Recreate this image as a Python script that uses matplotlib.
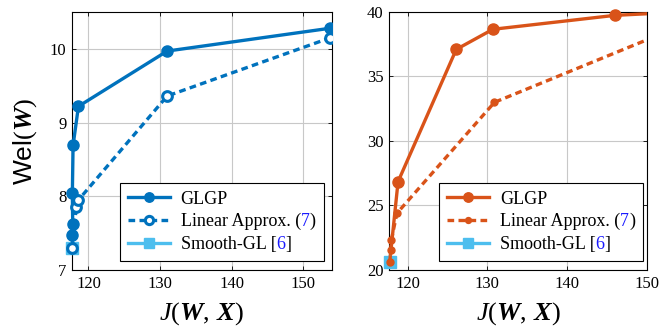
import matplotlib
matplotlib.use("Agg")
import matplotlib.pyplot as plt
from matplotlib.offsetbox import HPacker, TextArea
from matplotlib.patches import Rectangle

plt.rcParams['font.family'] = 'Liberation Serif'
plt.rcParams['mathtext.fontset'] = 'custom'
plt.rcParams['mathtext.rm'] = 'Liberation Serif'
plt.rcParams['mathtext.it'] = 'Liberation Serif:italic'
plt.rcParams['mathtext.bf'] = 'Liberation Serif:bold'
plt.rcParams['mathtext.bfit'] = 'Liberation Serif:italic:bold'
plt.rcParams['mathtext.sf'] = 'Liberation Sans'

blue = '#0072BD'
orange = '#D95319'
light = '#4DBEEE'
refblue = '#1a1aff'

# left panel: Wel(W) vs J(W, X)
j_glgp_l = [117.72, 117.75, 117.8, 117.75, 117.85, 118.6, 131.0, 153.8]
wel_glgp_l = [7.30, 7.47, 7.63, 8.04, 8.69, 9.22, 9.97, 10.28]
j_lin_l = [117.72, 118.3, 118.6, 131.0, 153.8]
wel_lin_l = [7.30, 7.85, 7.95, 9.36, 10.15]
j_sgl_l = [117.72]
wel_sgl_l = [7.30]

# right panel
j_glgp_r = [117.75, 118.8, 126.1, 130.7, 146.0, 153.8]
val_glgp_r = [20.6, 26.85, 37.1, 38.66, 39.74, 39.98]
j_lin_r = [117.75, 117.9, 117.95, 118.66, 130.9, 154.0]
val_lin_r = [20.6, 21.55, 22.3, 24.4, 33.0, 38.85]
j_sgl_r = [117.73]
val_sgl_r = [20.6]

# legend entries whose citation number is drawn in blue
cited = {'Linear Approx. (': ('7', ')'), 'Smooth-GL [': ('6', ']')}

fs_tick = 12
fs_leg = 13
fs_lab = 19

fig = plt.figure(figsize=(6.63, 3.29), dpi=100)
ax1 = fig.add_axes([72 / 663, 59 / 329, 259.7 / 663, 258 / 329])
ax2 = fig.add_axes([389.3 / 663, 59 / 329, 257.4 / 663, 258 / 329])

lw = 2.4
dash = (2.0, 1.3)


def colored_labels(leg):
    # swap the plain legend text for prefix + blue number + closing bracket
    for col in leg._legend_handle_box.get_children():
        for item in col.get_children():
            parts = item.get_children()
            if not isinstance(parts[1], TextArea):
                continue
            prefix = parts[1].get_text()
            if prefix not in cited:
                continue
            num, close = cited[prefix]
            box = HPacker(children=[
                parts[1],
                TextArea(num, textprops=dict(color=refblue, fontsize=fs_leg)),
                TextArea(close, textprops=dict(color='black', fontsize=fs_leg)),
            ], pad=0, sep=0, align='baseline')
            box.set_figure(leg.figure)
            parts[1] = box


def panel(ax, jg, vg, jl, vl, js, vs, color, lin_marker, legx):
    # pgfplots style: marks are not cut at the left edge, lines are cut at the right
    clip = Rectangle((-0.1, -0.1), 1.1, 1.2, transform=ax.transAxes)
    l1, = ax.plot(jg, vg, '-o', color=color, lw=lw, ms=8, label='GLGP', zorder=3)
    l2, = ax.plot(js, vs, '-s', color=light, lw=lw, ms=9, label='Smooth-GL [',
                  zorder=4)
    l3, = ax.plot(jl, vl, '--', color=color, lw=lw, dashes=dash, zorder=5,
                  label='Linear Approx. (', **lin_marker)
    for ln in (l1, l2, l3):
        ln.set_clip_path(clip)
    ax.grid(True, color='#c8c8c8', lw=0.8)
    ax.set_axisbelow(True)
    ax.tick_params(direction='in', top=True, right=True, length=3,
                   labelsize=fs_tick, width=0.6, pad=4)
    for s in ax.spines.values():
        s.set_linewidth(0.8)
    ax.set_xticks([120, 130, 140, 150])
    ax.set_xlabel(r'$J(\boldsymbol{W},\,\boldsymbol{X})$', fontsize=fs_lab,
                  labelpad=6)

    leg = ax.legend([l1, l3, l2], [l1.get_label(), l3.get_label(), l2.get_label()],
                    loc='lower right', bbox_to_anchor=(legx, 0.035),
                    fontsize=fs_leg, fancybox=False, framealpha=1,
                    edgecolor='black', handlelength=2.3, handletextpad=0.6,
                    labelspacing=0.3, borderpad=0.45, borderaxespad=0,
                    markerscale=0.85)
    leg.get_frame().set_linewidth(0.8)
    colored_labels(leg)


panel(ax1, j_glgp_l, wel_glgp_l, j_lin_l, wel_lin_l, j_sgl_l, wel_sgl_l, blue,
      dict(marker='o', ms=7, mfc='white', mew=2.2), 0.970)
ax1.set_xlim(117.7, 154.0)
ax1.set_ylim(7, 10.5)
ax1.set_yticks([7, 8, 9, 10])
ax1.set_ylabel(r'$\mathsf{Wel}(\boldsymbol{W})$', fontsize=fs_lab, labelpad=8)

panel(ax2, j_glgp_r, val_glgp_r, j_lin_r, val_lin_r, j_sgl_r, val_sgl_r, orange,
      dict(marker='o', ms=5), 0.986)
ax2.set_xlim(117.7, 150.0)
ax2.set_ylim(20, 40)
ax2.set_yticks([20, 25, 30, 35, 40])

fig.savefig('out.png', dpi=100)
